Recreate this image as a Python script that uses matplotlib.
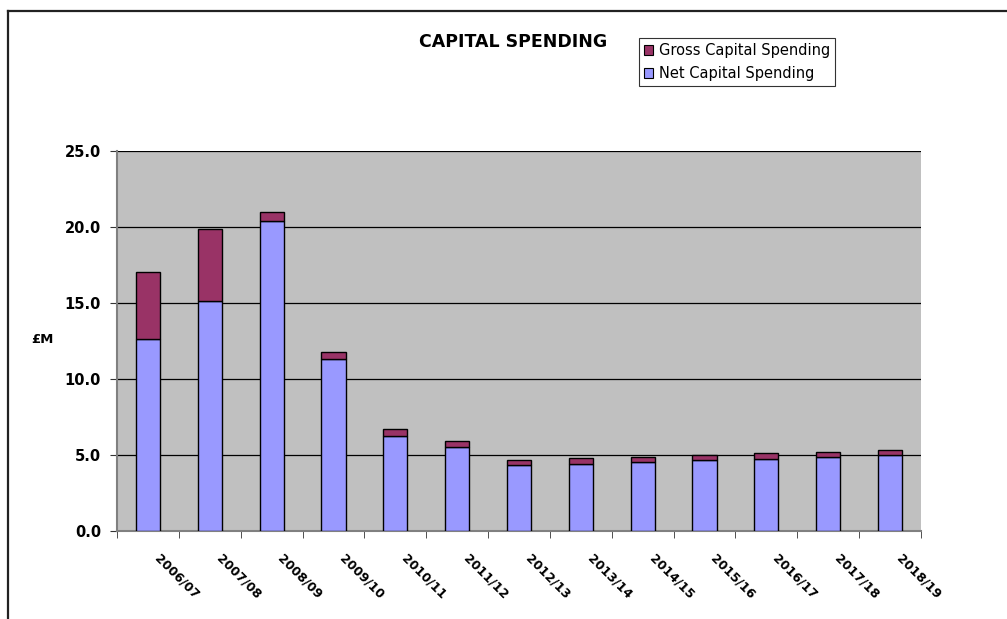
import matplotlib
matplotlib.use("Agg")
import matplotlib.pyplot as plt
import matplotlib.transforms as mtransforms
from matplotlib.lines import Line2D
from matplotlib.patches import Patch
import numpy as np

years = ["2006/07", "2007/08", "2008/09", "2009/10", "2010/11", "2011/12", "2012/13",
         "2013/14", "2014/15", "2015/16", "2016/17", "2017/18", "2018/19"]
net_spending = [12.6, 15.1, 20.4, 11.3, 6.25, 5.55, 4.33, 4.4, 4.52, 4.65, 4.72, 4.84, 4.98]
gross_spending = [17.05, 19.85, 21.0, 11.8, 6.73, 5.94, 4.67, 4.8, 4.87, 5.02, 5.15, 5.22, 5.35]

plt.rcParams['font.family'] = ['DejaVu Sans']

W, H = 1007, 619
fig = plt.figure(figsize=(W / 100, H / 100), dpi=100)
fig.patch.set_facecolor('white')

# outer border (chart area frame)
fig.add_artist(Line2D([8 / W, 8 / W], [0.0, 1 - 11 / H], transform=fig.transFigure, color='#222222', lw=1.6))
fig.add_artist(Line2D([8 / W, 1.0], [1 - 11 / H, 1 - 11 / H], transform=fig.transFigure, color='#222222', lw=1.6))

left, right, top, bottom = 117, 921, 151, 531
ax = fig.add_axes([left / W, 1 - bottom / H, (right - left) / W, (bottom - top) / H])
ax.set_facecolor('#C0C0C0')

x = np.arange(len(years))
diff = [g - n for g, n in zip(gross_spending, net_spending)]
bw = 0.39
ax.bar(x, net_spending, width=bw, color='#9999FF', edgecolor='black', linewidth=1.0, zorder=3)
ax.bar(x, diff, width=bw, bottom=net_spending, color='#993366', edgecolor='black', linewidth=1.0, zorder=3)

ax.set_xlim(-0.5, len(years) - 0.5)
ax.set_ylim(0, 25)
yt = np.arange(0, 25.1, 5)
ax.set_yticks(yt)
ax.set_yticklabels([f"{v:.1f}" for v in yt], fontsize=10.5, fontweight='bold')
for yv in yt[1:]:
    ax.axhline(yv, color='black', lw=0.9, zorder=1)

ax.set_xticks(x)
ax.set_xticklabels([])
ax.tick_params(axis='x', which='major', length=0)
off = mtransforms.ScaledTranslation(13 / 100, -21 / 100, fig.dpi_scale_trans)
for xi, lab in zip(x, years):
    ax.text(xi, 0, lab, transform=ax.get_xaxis_transform() + off, rotation=-45,
            ha='left', va='top', rotation_mode='anchor', fontsize=9, fontweight='bold')
ax.set_xticks(np.arange(-0.5, len(years), 1.0), minor=True)
ax.tick_params(axis='x', which='minor', length=5, color='#333333', direction='out')
ax.tick_params(axis='y', length=5, color='#333333', direction='out', pad=6.5)

for s in ['top', 'right']:
    ax.spines[s].set_visible(False)
for s in ['left', 'bottom']:
    ax.spines[s].set_color('#808080')
    ax.spines[s].set_linewidth(1.5)

fig.text(54 / W, 1 - 340 / H, "£M", fontsize=9.5, fontweight='bold', ha='right', va='center')
fig.text(513 / W, 1 - 42 / H, "CAPITAL SPENDING", fontsize=12.5, fontweight='bold', ha='center', va='center')

handles = [Patch(facecolor='#993366', edgecolor='black', lw=0.8),
           Patch(facecolor='#9999FF', edgecolor='black', lw=0.8)]
leg = fig.legend(handles, ["Gross Capital Spending", "Net Capital Spending"],
                 loc='upper left', bbox_to_anchor=(639 / W, 1 - 38 / H), fontsize=10.5,
                 frameon=True, fancybox=False, handlelength=0.6, handleheight=0.6,
                 handletextpad=0.4, borderpad=0.35, labelspacing=0.55, borderaxespad=0)
leg.get_frame().set_edgecolor('black')
leg.get_frame().set_linewidth(0.8)

fig.savefig("out.png", dpi=100)
